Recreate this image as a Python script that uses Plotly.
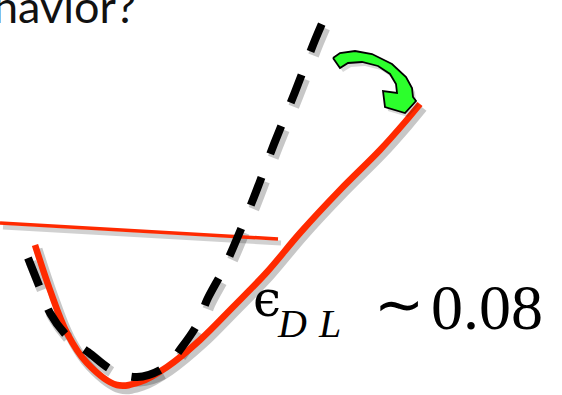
import plotly.graph_objects as go

# --- data (pixel-like coordinates, y grows downward) ---
red_curve_x = [35, 50, 67, 87, 117, 140, 167, 200, 233, 267, 300, 340, 380, 405, 420]
red_curve_y = [245, 290, 333, 363, 385, 382, 367, 340, 307, 272, 233, 190, 150, 122, 104]

dashed_x = [28, 40, 50, 68, 88, 112, 137, 165, 182, 198, 207, 222, 233, 254, 274, 295, 315, 327]
dashed_y = [258, 288, 313, 337, 352, 370, 377, 367, 347, 323, 300, 272, 248, 197, 144, 92, 40, 12]

thin_line_x = [0, 278]
thin_line_y = [223, 239]

arrow_x = [333, 340, 355, 372, 392, 406, 412, 413, 416, 405, 385, 383, 397, 396, 390, 378, 362, 348, 340, 333]
arrow_y = [58, 53, 51, 54, 64, 77, 88, 97, 101, 113, 107, 91, 93, 84, 74, 66, 62, 63, 68, 58]

SH_DX, SH_DY = 3, 4

fig = go.Figure()

# shadows
fig.add_trace(go.Scatter(x=[v + SH_DX for v in thin_line_x], y=[v + SH_DY for v in thin_line_y], mode="lines",
                         line=dict(color="rgba(0,0,0,0.18)", width=5), hoverinfo="skip"))
fig.add_trace(go.Scatter(x=[v + SH_DX for v in red_curve_x], y=[v + SH_DY for v in red_curve_y], mode="lines",
                         line=dict(color="rgba(0,0,0,0.22)", width=9, shape="spline"), hoverinfo="skip"))
fig.add_trace(go.Scatter(x=[v + SH_DX for v in dashed_x], y=[v + SH_DY for v in dashed_y], mode="lines",
                         line=dict(color="rgba(0,0,0,0.22)", width=11, shape="spline", dash="30px,25px"),
                         hoverinfo="skip"))

fig.add_trace(go.Scatter(x=thin_line_x, y=thin_line_y, mode="lines",
                         line=dict(color="#ff2a00", width=3.5), hoverinfo="skip"))
fig.add_trace(go.Scatter(x=red_curve_x, y=red_curve_y, mode="lines",
                         line=dict(color="#ff2a00", width=6.5, shape="spline"), hoverinfo="skip"))
fig.add_trace(go.Scatter(x=dashed_x, y=dashed_y, mode="lines",
                         line=dict(color="black", width=8, shape="spline", dash="30px,25px"), hoverinfo="skip"))

# green curved arrow
fig.add_trace(go.Scatter(x=[v + SH_DX for v in arrow_x], y=[v + SH_DY for v in arrow_y], mode="lines",
                         fill="toself", fillcolor="rgba(0,0,0,0.15)", line=dict(width=0), hoverinfo="skip"))
fig.add_trace(go.Scatter(x=arrow_x, y=arrow_y, mode="lines", fill="toself", fillcolor="#2cff2c",
                         line=dict(color="black", width=1.8), hoverinfo="skip"))

# texts
fig.add_annotation(x=138, y=35, xref="x", yref="y", text="behavior?", showarrow=False,
                   xanchor="right", yanchor="bottom",
                   font=dict(family="Lato", size=45, color="#111111"))
fig.add_annotation(x=251, y=330, xref="x", yref="y", text="ϵ", showarrow=False,
                   xanchor="left", yanchor="bottom",
                   font=dict(family="DejaVu Serif", size=50, color="black"))
fig.add_annotation(x=275, y=348, xref="x", yref="y", text="<i>D</i>", showarrow=False,
                   xanchor="left", yanchor="bottom",
                   font=dict(family="Liberation Serif", size=40, color="black"))
fig.add_annotation(x=316, y=348, xref="x", yref="y", text="<i>L</i>", showarrow=False,
                   xanchor="left", yanchor="bottom",
                   font=dict(family="Liberation Serif", size=40, color="black"))
fig.add_annotation(x=372, y=340, xref="x", yref="y", text="∼", showarrow=False,
                   xanchor="left", yanchor="bottom",
                   font=dict(family="Liberation Serif", size=60, color="black"))
fig.add_annotation(x=545, y=345, xref="x", yref="y", text="0.08", showarrow=False,
                   xanchor="right", yanchor="bottom",
                   font=dict(family="Liberation Serif", size=64, color="black"))

fig.update_layout(width=562, height=395, margin=dict(l=0, r=0, t=0, b=0),
                  paper_bgcolor="white", plot_bgcolor="white", showlegend=False,
                  xaxis=dict(range=[0, 562], visible=False, fixedrange=True),
                  yaxis=dict(range=[395, 0], visible=False, fixedrange=True))

fig.write_html("out.html", config={"displayModeBar": False},
               post_script="document.body.style.margin='0';document.body.style.overflow='hidden';")
